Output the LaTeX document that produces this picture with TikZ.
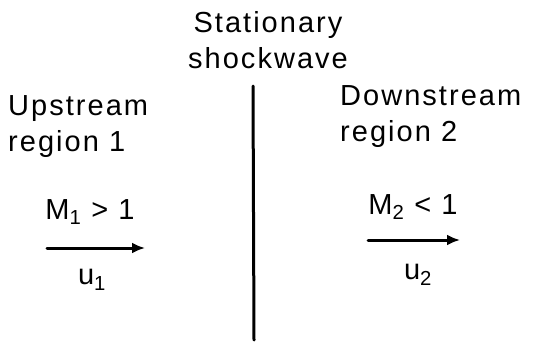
\documentclass[tikz,border=0pt]{standalone}
\usepackage{fontspec}
\setmainfont{Liberation Sans}[LetterSpace=7]
\usetikzlibrary{arrows.meta}
\tikzset{
  lbl/.style={font=\fontsize{29}{36}\selectfont,inner sep=0pt,align=left},
  flow/.style={line width=3pt,-{Latex[length=13pt,width=11pt]}}
}
\begin{document}
\begin{tikzpicture}[x=1pt,y=-1pt,line cap=round,line join=round]
  \useasboundingbox (0,0) rectangle (535,348);
  % shock
  \node[lbl,align=center] (shocklbl) at (268,40) {Stationary\\shockwave};
  \coordinate (shocktop) at (253,86);
  \coordinate (shockbot) at (254,340);
  \draw[line width=3pt] (shocktop) -- (shockbot);
  % upstream side
  \node[lbl,anchor=west] (upreg) at (8,127) {Upstream\\region 1};
  \node[lbl] (mone) at (90,212) {M\textsubscript{1} > 1};
  \coordinate (ua) at (47,248);
  \coordinate (ub) at (145,248);
  \draw[flow] (ua) -- (ub);
  \node[lbl] (uone) at (92,280) {u\textsubscript{1}};
  % downstream side
  \node[lbl,anchor=west] (downreg) at (340,117) {Downstream\\region 2};
  \node[lbl] (mtwo) at (413,207) {M\textsubscript{2} < 1};
  \coordinate (da) at (368,240);
  \coordinate (db) at (460,240);
  \draw[flow] (da) -- (db);
  \node[lbl] (utwo) at (418,275) {u\textsubscript{2}};
\end{tikzpicture}
\end{document}
